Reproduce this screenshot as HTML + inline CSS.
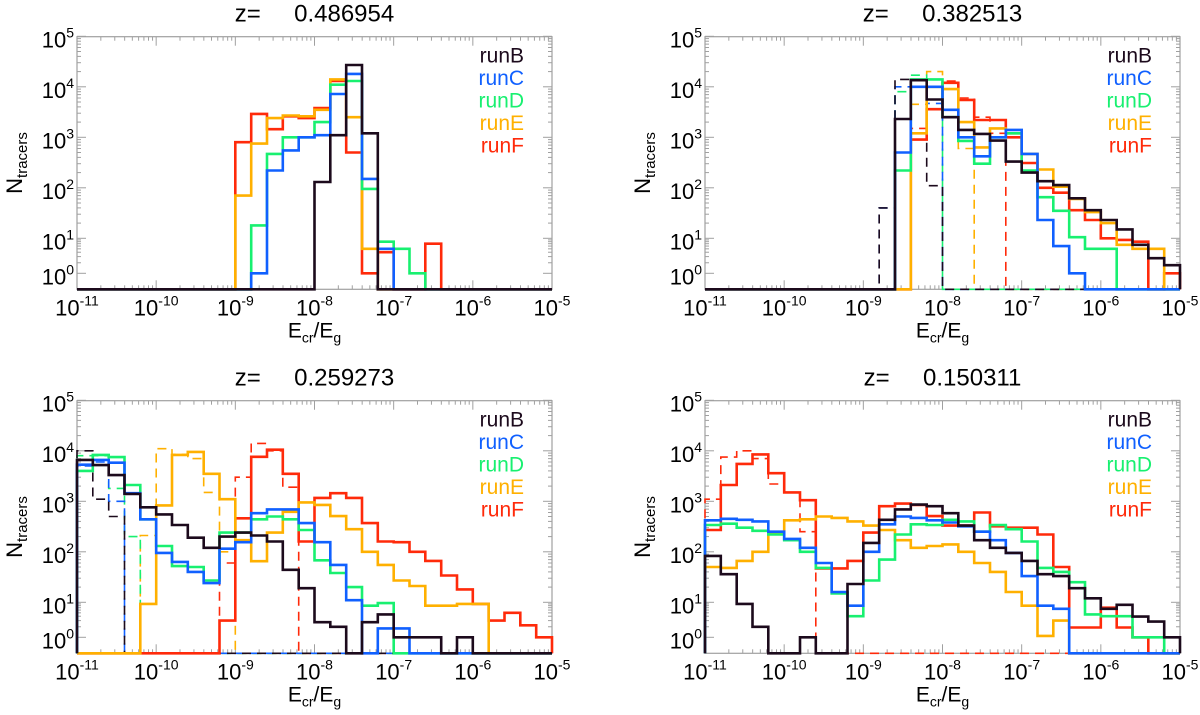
<!DOCTYPE html>
<html><head><meta charset="utf-8"><style>
html,body{margin:0;padding:0;background:#fff;}
svg{display:block;font-family:"Liberation Sans",Arial,sans-serif;}
.pre{white-space:pre;}
</style></head><body>
<svg id="chart" width="1200" height="715" viewBox="0 0 1200 715" xmlns="http://www.w3.org/2000/svg"></svg>
<script>
const runNames = ["runB","runC","runD","runE","runF"];
const runColors = ["#1c0a1c","#1060ff","#18f070","#ffb000","#ff2a0a"];
const panelTitles = ["z=     0.486954","z=     0.382513","z=     0.259273","z=     0.150311"];
const xTickExps = [-11,-10,-9,-8,-7,-6,-5];
const yTickExps = [0,1,2,3,4,5];
const binLo = -11, binStep = 0.2, nBins = 30;

// panel 1
const p1B = [0,0,0,0,0,0,0,0,0,0,0,0,0,0,0,130,1100,27000,1200,0,0,0,0,0,0,0,0,0,0,0];
const p1C = [0,0,0,0,0,0,0,0,0,0,0,1,220,550,1000,1100,7200,18000,150,5,0,0,0,0,0,0,0,0,0,0];
const p1D = [0,0,0,0,0,0,0,0,0,0,0,18,470,1000,1000,2000,11000,13000,95,8,5,1,0,0,0,0,0,0,0,0];
const p1E = [0,0,0,0,0,0,0,0,0,0,70,750,2400,2700,2600,3500,14000,2500,5,0,0,0,0,0,0,0,0,0,0,0];
const p1F = [0,0,0,0,0,0,0,0,0,0,800,2900,1450,2600,2400,3800,13000,500,1,4,0,0,7,0,0,0,0,0,0,0];
// panel 2
const p2B = [0,0,0,0,0,0,0,0,0,0,0,0,2300,13500,5600,2500,1400,1170,860,330,200,135,113,62,36,23,15,6.5,2.7,1.7];
const p2C = [0,0,0,0,0,0,0,0,0,0,0,0,500,10000,10000,3500,1000,420,1000,1400,470,23,6,1,0,0,0,0,0,0];
const p2D = [0,0,0,0,0,0,0,0,0,0,0,0,220,14000,14000,2500,850,300,1000,1200,220,65,35,10.5,5,5,0,0,0,0];
const p2E = [0,0,0,0,0,0,0,0,0,0,0,0,0,1200,10000,9000,2000,630,1500,1200,470,230,105,60,33,20,6.5,5,5,0];
const p2F = [0,0,0,0,0,0,0,0,0,0,0,0,0,900,3600,12000,5500,2200,2200,1000,310,100,80,36,23,10,9,8,0,1];
const p2Bd = [0,0,0,0,0,0,0,0,0,0,0,40,14000,14000,110,0,0,0,0,0,0,0,0,0,0,0,0,0,0,0];
const p2Cd = [0,0,0,0,0,0,0,0,0,0,0,40,10000,10000,4700,0,0,0,0,0,0,0,0,0,0,0,0,0,0,0];
const p2Dd = [0,0,0,0,0,0,0,0,0,0,0,0,8000,17000,14000,0,0,0,0,0,0,0,0,0,0,0,0,0,0,0];
const p2Ed = [0,0,0,0,0,0,0,0,0,0,0,0,0,4500,20000,9000,600,0,0,0,0,0,0,0,0,0,0,0,0,0];
const p2Fd = [0,0,0,0,0,0,0,0,0,0,0,0,0,1500,3600,13000,6000,2500,1200,0,0,0,0,0,0,0,0,0,0,0];
// panel 3
const p3B = [6600,5200,3300,1400,760,550,340,190,120,200,240,210,160,44,19,2.7,2,0,2.7,4.5,1,1,1,0,1,0,0,0,0,0];
const p3C = [5300,6600,5800,1450,440,95,63,40,24,115,155,580,690,690,370,155,55,11,0,1.8,1.8,0,0,0,0,0,0,0,0,0];
const p3D = [4000,8300,7500,2100,440,130,52,50,27,240,240,440,500,440,270,68,38,20,8,9.5,0,0,0,0,0,0,0,0,0,0];
const p3E = [0,0,0,0,9,830,8300,9500,3500,1100,170,65,240,620,950,850,510,280,100,55,27,21,8,8,9,9,0,0,0,0];
const p3F = [0,0,0,0,0,0,0,0,0,3,460,7600,10500,3500,160,1170,1450,1170,370,160,155,100,66,34,18,9,3,5,2.2,1];
const p3Bd = [10000,1100,500,0,0,0,0,0,0,0,0,0,0,0,0,0,0,0,0,0,0,0,0,0,0,0,0,0,0,0];
const p3Cd = [5000,6000,1000,0,0,0,0,0,0,0,0,0,0,0,0,0,0,0,0,0,0,0,0,0,0,0,0,0,0,0];
const p3Dd = [8000,8000,1800,200,0,0,0,0,0,0,0,0,0,0,0,0,0,0,0,0,0,0,0,0,0,0,0,0,0,0];
const p3Ed = [0,0,0,0,210,11000,8500,7000,1500,100,0,0,0,0,0,0,0,0,0,0,0,0,0,0,0,0,0,0,0,0];
const p3Fd = [0,0,0,0,0,0,0,0,0,60,3000,14000,10000,1900,0,0,0,0,0,0,0,0,0,0,0,0,0,0,0,0];
// panel 4
const p4B = [83,36,9,2,0,0,1,0,0,23,150,430,690,860,800,580,330,170,120,95,66,36,33,19,12,6.5,8.5,3.9,2.8,1];
const p4C = [420,450,430,400,250,180,120,60,16,8,100,350,500,470,420,380,320,250,170,95,33,8,6.5,0,0,0,0,0,0,0];
const p4D = [340,360,300,260,220,170,100,48,15,4,27,70,220,350,340,430,400,250,340,280,160,48,40,25,4.5,4,4,1,1,0];
const p4E = [50,48,66,100,230,420,440,500,470,400,330,270,170,120,130,140,100,60,40,16,8,1.1,3,0,0,0,0,0,0,0];
const p4F = [270,2100,5500,8500,3600,1500,1050,47,47,66,240,800,900,850,510,330,330,600,320,300,300,220,50,1.9,1.9,7,1.9,1,0,0];
const p4Fd = [1100,7500,10000,7000,2200,1500,250,0,0,0,0,0,0,0,0,0,0,0,0,0,0,0,0,0,0,0,0,0,0,0];

const NS = "http://www.w3.org/2000/svg";
const svg = document.getElementById("chart");
function mk(tag, attrs, parent){const e=document.createElementNS(NS,tag);for(const k in attrs)e.setAttribute(k,attrs[k]);(parent||svg).appendChild(e);return e;}

const panels = [
  {left:77, top:36.7, solid:[p1B,p1C,p1D,p1E,p1F], dashed:[null,null,null,null,null]},
  {left:705, top:36.7, solid:[p2B,p2C,p2D,p2E,p2F], dashed:[p2Bd,p2Cd,p2Dd,p2Ed,p2Fd]},
  {left:77, top:400.7, solid:[p3B,p3C,p3D,p3E,p3F], dashed:[p3Bd,p3Cd,p3Dd,p3Ed,p3Fd]},
  {left:705, top:400.7, solid:[p4B,p4C,p4D,p4E,p4F], dashed:[null,null,null,null,p4Fd]}
];
const W = 475, H = 252.6, DEC = 50.5;

panels.forEach((p, pi) => {
  const g = mk("g", {});
  
  
  const L = p.left, T = p.top, B = T + H, R = L + W;
  const xs = lg => L + (lg - (-11)) / 6 * W;
  const ys = v => {
    if (v <= 0) return B;
    const l = Math.log10(v);
    if (l >= 1) return (B - 51) - (l - 1) * DEC;
    return (B - 16) - l * 35;
  };
  const t = mk("text", {x: L + W/2, y: T - 15, "text-anchor":"middle", "font-size":"24", fill:"#000", "class":"pre"}, g);
  t.textContent = panelTitles[pi];
  
  
  const fr = mk("rect", {x:L, y:T, width:W, height:H, fill:"none", stroke:"#a0a0a0", "stroke-width":"1.2"}, g);
  
  
  xTickExps.forEach((e, i) => {
    const x = xs(e);
    mk("line", {x1:x, x2:x, y1:B, y2:B-9, stroke:"#a0a0a0", "stroke-width":"1"}, g);
    mk("line", {x1:x, x2:x, y1:T, y2:T+9, stroke:"#a0a0a0", "stroke-width":"1"}, g);
    if (i < xTickExps.length - 1) {
      for (let m = 2; m < 10; m++) {
        const xm = xs(e + Math.log10(m));
        mk("line", {x1:xm, x2:xm, y1:B, y2:B-4, stroke:"#a0a0a0", "stroke-width":"1"}, g);
        mk("line", {x1:xm, x2:xm, y1:T, y2:T+4, stroke:"#a0a0a0", "stroke-width":"1"}, g);
      }
    }
    const lab = mk("text", {x:x, y:B+26, "text-anchor":"middle", "font-size":"22", fill:"#000"}, g);
    
    
    lab.appendChild(document.createTextNode("10"));
    const sup = mk("tspan", {"font-size":"14", dy:"-10"}, lab);
    sup.textContent = String(e);
  });
  yTickExps.forEach((e, i) => {
    const y = ys(Math.pow(10, e));
    mk("line", {x1:L, x2:L+9, y1:y, y2:y, stroke:"#a0a0a0", "stroke-width":"1"}, g);
    mk("line", {x1:R, x2:R-9, y1:y, y2:y, stroke:"#a0a0a0", "stroke-width":"1"}, g);
    if (i < yTickExps.length - 1) {
      for (let m = 2; m < 10; m++) {
        const ym = ys(m * Math.pow(10, e));
        mk("line", {x1:L, x2:L+4, y1:ym, y2:ym, stroke:"#a0a0a0", "stroke-width":"1"}, g);
        mk("line", {x1:R, x2:R-4, y1:ym, y2:ym, stroke:"#a0a0a0", "stroke-width":"1"}, g);
      }
    }
    const lab = mk("text", {x:L-3, y:y+11, "text-anchor":"end", "font-size":"22", fill:"#000"}, g);
    
    
    lab.appendChild(document.createTextNode("10"));
    const sup = mk("tspan", {"font-size":"14", dy:"-10"}, lab);
    sup.textContent = String(e);
  });
  const yt = mk("text", {x:0, y:0, "text-anchor":"middle", "font-size":"22", fill:"#000", transform:`translate(${L-55},${T+H/2}) rotate(-90)`}, g);
  
  
  yt.appendChild(document.createTextNode("N"));
  const ysub = mk("tspan", {"font-size":"15", dy:"5"}, yt); ysub.textContent = "tracers";
  const xt = mk("text", {x:L+W/2, y:B+48, "text-anchor":"middle", "font-size":"21", fill:"#000"}, g);
  
  
  xt.appendChild(document.createTextNode("E"));
  const s1 = mk("tspan", {"font-size":"14", dy:"5"}, xt); s1.textContent = "cr";
  const s2 = mk("tspan", {dy:"-5"}, xt); s2.textContent = "/E";
  const s3 = mk("tspan", {"font-size":"14", dy:"5"}, xt); s3.textContent = "g";

  function stepPath(vals){
    let d = `M${xs(binLo).toFixed(1)},${B}`;
    for (let i = 0; i < nBins; i++) {
      const x1 = xs(binLo + (i+1)*binStep);
      d += ` V${ys(vals[i]).toFixed(1)} H${x1.toFixed(1)}`;
    }
    d += ` V${B}`;
    return d;
  }
  const order = [4,3,2,1,0];
  order.forEach(k => {
    if (p.dashed[k]) {
      const pd = mk("path", {d:stepPath(p.dashed[k]), fill:"none", stroke:runColors[k], "stroke-width":"1.6", "stroke-dasharray":"9,6"}, g);
      
      
    }
  });
  order.forEach(k => {
    const ps = mk("path", {d:stepPath(p.solid[k]), fill:"none", stroke:runColors[k], "stroke-width":"2.6", "stroke-linejoin":"miter"}, g);
    
    
  });
  runNames.forEach((n, k) => {
    const lt = mk("text", {x:R-28, y:T+26+k*22.5, "text-anchor":"end", "font-size":"21", fill:runColors[k]}, g);
    lt.textContent = n;
    
    
  });
});
</script>
</body></html>
